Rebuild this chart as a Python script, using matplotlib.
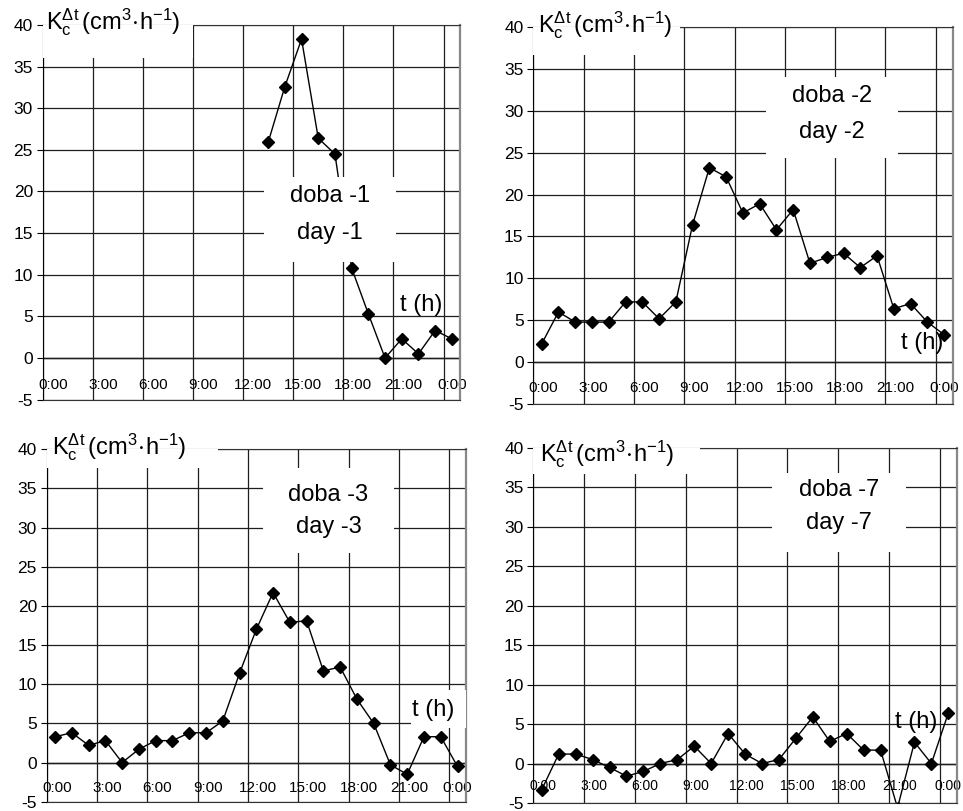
import matplotlib
matplotlib.use("Agg")
import matplotlib.pyplot as plt
from matplotlib.patches import Rectangle

plt.rcParams['font.family'] = ['Liberation Sans', 'DejaVu Sans']
plt.rcParams['mathtext.fontset'] = 'custom'
plt.rcParams['mathtext.rm'] = 'Liberation Sans'
plt.rcParams['mathtext.it'] = 'Liberation Sans'
plt.rcParams['axes.unicode_minus'] = False

# measured values, K_c^dt in cm3/h, at half past each hour
hours_day1 = [13.5, 14.5, 15.5, 16.5, 17.5, 18.5, 19.5, 20.5, 21.5, 22.5, 23.5, 24.5]
k_day1 = [25.9, 32.6, 38.3, 26.4, 24.5, 10.8, 5.3, 0.0, 2.3, 0.5, 3.3, 2.3]

hours_full = [0.5, 1.5, 2.5, 3.5, 4.5, 5.5, 6.5, 7.5, 8.5, 9.5, 10.5, 11.5, 12.5,
              13.5, 14.5, 15.5, 16.5, 17.5, 18.5, 19.5, 20.5, 21.5, 22.5, 23.5, 24.5]
k_day2 = [2.2, 6.0, 4.8, 4.8, 4.8, 7.2, 7.2, 5.2, 7.2, 16.4, 23.2, 22.1, 17.8,
          18.9, 15.8, 18.2, 11.8, 12.5, 13.0, 11.3, 12.7, 6.4, 7.0, 4.8, 3.3]
k_day3 = [3.3, 3.8, 2.2, 2.8, 0.0, 1.7, 2.8, 2.8, 3.8, 3.8, 5.3, 11.4, 17.0,
          21.7, 17.9, 18.1, 11.7, 12.2, 8.1, 5.0, -0.3, -1.5, 3.3, 3.3, -0.5]
k_day7 = [-3.3, 1.2, 1.2, 0.5, -0.5, -1.6, -1.0, 0.0, 0.5, 2.2, 0.0, 3.8, 1.2,
          0.0, 0.5, 3.2, 5.9, 2.8, 3.8, 1.7, 1.7, -5.6, 2.7, 0.0, 6.4]

grid_hours = [0, 3, 6, 9, 12, 15, 18, 21, 24]
time_labels = ['0:00', '3:00', '6:00', '9:00', '12:00', '15:00', '18:00', '21:00', '0:00']
y_ticks = [-5, 0, 5, 10, 15, 20, 25, 30, 35, 40]

W, H = 963, 811
fig = plt.figure(figsize=(W / 100, H / 100), dpi=100)


def add_axes_px(left, right, top, bottom):
    return fig.add_axes([left / W, (H - bottom) / H, (right - left) / W, (bottom - top) / H])


def draw_panel(ax, hours, values, day, label_box, label_pos, day_box, day_y,
               th_pos, th_box=None, xlab_y=-3.1, xlab_size=11):
    ax.set_xlim(0, 25)
    ax.set_ylim(-5, 40)
    ax.set_xticks(grid_hours)
    ax.set_xticklabels([])
    ax.set_yticks(y_ticks)
    ax.tick_params(axis='x', length=0)
    ax.tick_params(axis='y', direction='out', length=4, width=0.8, pad=3, labelsize=12.5)
    ax.grid(True, color='#1e1e1e', lw=0.9, zorder=1)
    ax.axhline(0, color='black', lw=1, zorder=1.5)

    for side in ['top', 'bottom']:
        ax.spines[side].set_color('#333333')
    ax.spines['right'].set_color('#888888')
    ax.spines['right'].set_linewidth(1.6)
    ax.spines['left'].set_color('black')

    ax.plot(hours, values, color='black', lw=1.0, marker='D', ms=6,
            markerfacecolor='black', markeredgecolor='black', zorder=3)

    # time labels sit inside the plot, between the 0 and -5 lines
    for h, lab in zip(grid_hours, time_labels):
        ax.text(min(h + 0.6, 24.5), xlab_y, lab, ha='center', va='center',
                fontsize=xlab_size, zorder=2)

    # white boxes that hide the grid behind the texts
    boxes = [label_box, day_box] + ([th_box] if th_box is not None else [])
    for (x0, x1, y0, y1) in boxes:
        ax.add_patch(Rectangle((x0, y0), x1 - x0, y1 - y0, facecolor='white',
                               edgecolor='none', zorder=4, clip_on=False))

    ax.text(label_pos[0], label_pos[1],
            r'$\mathregular{K_c^{\Delta t}\,(cm^{3}\!\cdot\! h^{-1})}$',
            ha='left', va='center', fontsize=17, zorder=5, clip_on=False)
    xc = (day_box[0] + day_box[1]) / 2
    ax.text(xc, day_y[0], 'doba -%d' % day, ha='center', va='center', fontsize=17, zorder=5)
    ax.text(xc, day_y[1], 'day -%d' % day, ha='center', va='center', fontsize=17, zorder=5)
    ax.text(th_pos[0], th_pos[1], 't (h)', ha='center', va='center', fontsize=17, zorder=5)


ax1 = add_axes_px(42.7, 460.2, 25, 399.6)
draw_panel(ax1, hours_day1, k_day1, 1,
           label_box=(0, 9.0, 36.0, 40.0), label_pos=(0.2, 40.3),
           day_box=(13.25, 21.16, 11.5, 21.75), day_y=(19.4, 15.0),
           th_pos=(22.65, 6.4), xlab_y=-3.2)

ax2 = add_axes_px(533.3, 952.5, 26.7, 404.3)
draw_panel(ax2, hours_full, k_day2, 2,
           label_box=(0, 8.75, 36.6, 40.0), label_pos=(0.3, 40.2),
           day_box=(13.88, 21.75, 24.35, 34.0), day_y=(31.7, 27.5),
           th_pos=(23.2, 2.3), xlab_y=-3.1)

ax3 = add_axes_px(46.7, 465.9, 449.3, 801.7)
draw_panel(ax3, hours_full, k_day3, 3,
           label_box=(0, 10.2, 37.6, 40.0), label_pos=(0.3, 40.3),
           day_box=(12.9, 20.7, 26.7, 37.6), day_y=(34.2, 30.1),
           th_pos=(23.05, 6.7), th_box=(21.7, 25.0, 4.4, 9.25), xlab_y=-3.3)

ax4 = add_axes_px(533.3, 956.8, 447.7, 803)
draw_panel(ax4, hours_full, k_day7, 7,
           label_box=(0, 9.85, 36.7, 40.0), label_pos=(0.4, 39.2),
           day_box=(14.07, 22.0, 26.8, 36.8), day_y=(34.6, 30.4),
           th_pos=(22.6, 5.2), xlab_y=-2.8, xlab_size=10)

fig.savefig('out.png', dpi=100)
